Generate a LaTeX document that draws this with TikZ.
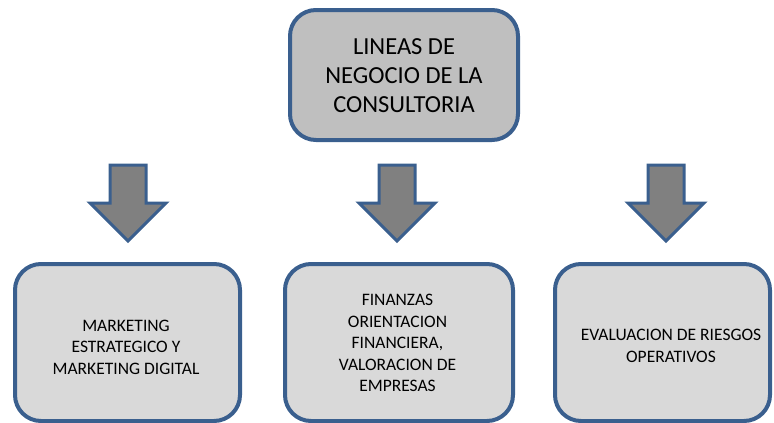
\documentclass[tikz,border=0pt]{standalone}
\usepackage{fontspec}
\setmainfont{Carlito}
\definecolor{bord}{HTML}{3A5F8E}
\definecolor{topfill}{HTML}{BFBFBF}
\definecolor{boxfill}{HTML}{D9D9D9}
\definecolor{arrfill}{HTML}{808080}
\begin{document}
\begin{tikzpicture}[x=1pt,y=-1pt,
  boxbase/.style={draw=bord, line width=4pt, rounded corners=26pt, inner sep=0pt, outer sep=0pt},
  topbox/.style={boxbase, fill=topfill},
  lowbox/.style={boxbase, fill=boxfill},
  toptext/.style={align=center, inner sep=0pt, font=\fontsize{24.5}{29}\selectfont},
  lowtext/.style={align=center, inner sep=0pt, font=\fontsize{17.5}{21.5}\selectfont},
  downarrow/.style={draw=bord, line width=3pt, fill=arrfill, line join=miter}
]
\useasboundingbox (0,0) rectangle (774,423);
% top box
\node[topbox, minimum width=228pt, minimum height=130pt] (top) at (404,75) {};
\node[toptext] (toptxt) at (404,76) {LINEAS DE\\NEGOCIO DE LA\\CONSULTORIA};
% arrows
\foreach \cx/\nm in {128/a1,397/a2,666/a3}{
  \draw[downarrow] (\cx-18,165) -- (\cx+18,165) -- (\cx+18,203) -- (\cx+38,203)
     -- (\cx,241) -- (\cx-38,203) -- (\cx-18,203) -- cycle;
}
% bottom boxes
\node[lowbox, minimum width=225pt, minimum height=157pt] (b1) at (127.5,342.5) {};
\node[lowbox, minimum width=228pt, minimum height=157pt] (b2) at (399,342.5) {};
\node[lowbox, minimum width=215pt, minimum height=157pt] (b3) at (662.5,342.5) {};
\node[lowtext] (t1) at (126,347) {MARKETING\\ESTRATEGICO Y\\MARKETING DIGITAL};
\node[lowtext] (t2) at (397.5,343) {FINANZAS\\ORIENTACION\\FINANCIERA,\\VALORACION DE\\EMPRESAS};
\node[lowtext] (t3) at (671,346) {EVALUACION DE RIESGOS\\OPERATIVOS};
\end{tikzpicture}
\end{document}
